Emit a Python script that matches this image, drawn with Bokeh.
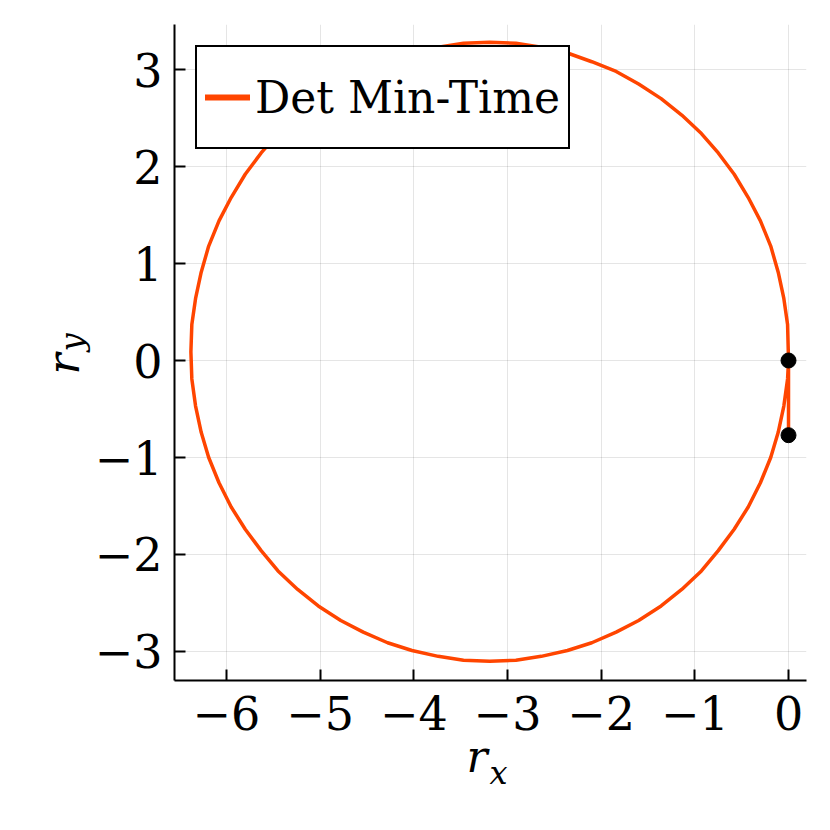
from bokeh.plotting import figure
from bokeh.models import Range1d, Legend, LegendItem, Title
from bokeh.embed import file_html
from bokeh.resources import INLINE

# ---- data ----
series_name = "Det Min-Time"
rx = [0.00, 0.00, 0.00, -0.01, -0.05, -0.11, -0.19, -0.30, -0.43, -0.58, -0.75,
      -0.93, -1.14, -1.36, -1.60, -1.84, -2.10, -2.36, -2.64, -2.91, -3.19,
      -3.47, -3.74, -4.02, -4.28, -4.54, -4.78, -5.02, -5.24, -5.45, -5.63,
      -5.80, -5.95, -6.08, -6.19, -6.27, -6.33, -6.37, -6.38, -6.37, -6.33,
      -6.27, -6.19, -6.08, -5.95, -5.80, -5.63, -5.45, -5.24, -5.02, -4.78,
      -4.54, -4.28, -4.02, -3.74, -3.47, -3.19, -2.91, -2.64, -2.36, -2.10,
      -1.84, -1.60, -1.36, -1.14, -0.93, -0.75, -0.58, -0.43, -0.30, -0.19,
      -0.11, -0.05, -0.01, 0.00]
ry = [-0.77, -0.40, 0.00, 0.37, 0.64, 0.91, 1.18, 1.44, 1.68, 1.92, 2.14,
      2.34, 2.53, 2.70, 2.85, 2.98, 3.08, 3.17, 3.23, 3.27, 3.28,
      3.27, 3.23, 3.17, 3.08, 2.98, 2.85, 2.70, 2.53, 2.34, 2.14,
      1.92, 1.68, 1.44, 1.18, 0.91, 0.64, 0.37, 0.09, -0.19, -0.47,
      -0.74, -1.00, -1.26, -1.51, -1.74, -1.96, -2.17, -2.36, -2.53, -2.68,
      -2.80, -2.91, -2.99, -3.05, -3.09, -3.10, -3.09, -3.05, -2.99, -2.91,
      -2.80, -2.68, -2.53, -2.36, -2.17, -1.96, -1.74, -1.51, -1.26, -1.00,
      -0.74, -0.47, -0.19, 0.00]
marker_x = [0.0, 0.0]
marker_y = [0.0, -0.77]
x_ticks = [-6, -5, -4, -3, -2, -1, 0]
y_ticks = [-3, -2, -1, 0, 1, 2, 3]
x_title, x_sub = "r", "x"
y_title, y_sub = "r", "y"

FONT = "DejaVu Serif"
LINE_COLOR = "#FF4500"
FRAME_LEFT, FRAME_BOTTOM = 174, 680

p = figure(width=822, height=822, output_backend="svg", toolbar_location=None,
           x_range=Range1d(-6.555, 0.192), y_range=Range1d(-3.299, 3.464),
           min_border_left=174, min_border_right=16, min_border_top=24,
           min_border_bottom=142)
p.outline_line_color = None
p.background_fill_color = "white"

def minus(v):
    return str(v).replace("-", "\u2212")

for ax, ticks in ((p.xaxis, x_ticks), (p.yaxis, y_ticks)):
    ax.ticker = ticks
    ax.major_label_overrides = {t: minus(t) for t in ticks}
    ax.axis_line_width = 2
    ax.axis_line_color = "black"
    ax.major_tick_in = 11
    ax.major_tick_out = 0
    ax.major_tick_line_width = 2
    ax.minor_tick_line_color = None
    ax.major_label_text_font = FONT
    ax.major_label_text_font_size = "46px"
    ax.major_label_text_color = "black"
p.xaxis.major_label_standoff = 15
p.yaxis.major_label_standoff = 12

for g in (p.xgrid, p.ygrid):
    g.grid_line_color = "black"
    g.grid_line_alpha = 0.1
    g.grid_line_width = 1

p.line(rx, ry, line_color=LINE_COLOR, line_width=3.5, line_join="round")
p.scatter(marker_x, marker_y, size=15, color="black")

nan = float("nan")
leg_r = p.line([nan], [nan], line_color=LINE_COLOR, line_width=6, line_cap="round")
legend = Legend(items=[LegendItem(label=series_name, renderers=[leg_r])],
                location="top_left", margin=21, padding=8, spacing=0,
                glyph_width=45, glyph_height=84, label_standoff=5,
                label_text_font=FONT, label_text_font_size="44px",
                label_text_color="black",
                border_line_color="black", border_line_width=2, border_line_alpha=1.0,
                background_fill_color="white", background_fill_alpha=1.0)
p.add_layout(legend)

# axis titles r_x and r_y built from side-panel titles (italic with subscript)
def ttl(text, size, offset, standoff, valign="bottom"):
    return Title(text=text, align="left", offset=offset, standoff=standoff,
                 vertical_align=valign,
                 text_font=FONT, text_font_style="italic", text_font_size=size,
                 text_color="black")

p.add_layout(ttl(x_title, "44px", 466 - FRAME_LEFT, -7), "below")
p.add_layout(ttl(x_sub, "32px", 489 - FRAME_LEFT, -50, "top"), "below")
p.add_layout(ttl(y_title, "44px", FRAME_BOTTOM - 374, 6), "left")
p.add_layout(ttl(y_sub, "32px", FRAME_BOTTOM - 351, -117), "left")

open("out.html", "w").write(file_html(p, INLINE))
